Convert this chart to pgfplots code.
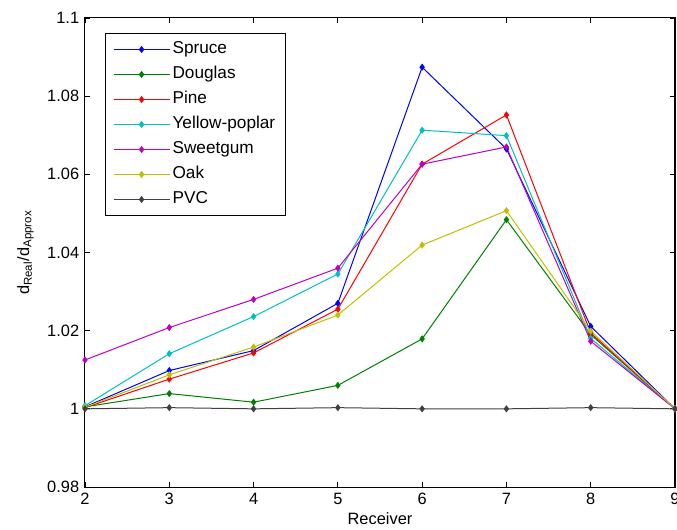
\documentclass[border=0pt]{standalone}
\usepackage{pgfplots}
\pgfplotsset{compat=1.18}
\usepackage{fontspec}
\setmainfont{Liberation Sans}
\definecolor{mblue}{rgb}{0,0,1}
\definecolor{mgreen}{rgb}{0,0.5,0}
\definecolor{mred}{rgb}{1,0,0}
\definecolor{mcyan}{rgb}{0,0.75,0.75}
\definecolor{mmag}{rgb}{0.75,0,0.75}
\definecolor{myel}{rgb}{0.75,0.75,0}
\definecolor{mgray}{rgb}{0.25,0.25,0.25}
\begin{document}
\fontsize{8.2}{9.8}\selectfont
\begin{tikzpicture}
\begin{axis}[
  scale only axis,
  width=295pt, height=234.5pt,
  xmin=2, xmax=9, ymin=0.98, ymax=1.1,
  xtick={2,3,4,5,6,7,8,9},
  ytick={0.98,1,1.02,1.04,1.06,1.08,1.1},
  /pgf/number format/assume math mode=true,
  /pgf/number format/fixed,
  /pgf/number format/precision=2,
  tick align=inside,
  major tick length=2.5pt,
  tick style={black, line width=0.4pt},
  axis line style={black, line width=0.5pt},
  ticklabel style={font=\fontsize{8.2}{9.8}\selectfont},
  label style={font=\fontsize{8.2}{9.8}\selectfont},
  xlabel={Receiver},
  ylabel={d\textsubscript{Real}/d\textsubscript{Approx}},
  xlabel style={yshift=1.5pt},
  ylabel style={yshift=1pt},
  every axis plot/.append style={line width=0.5pt, mark=diamond*, mark size=1.4pt},
  legend cell align=left,
  legend style={at={(0.034,0.968)}, anchor=north west, draw=black, line width=0.5pt,
    font=\fontsize{8.6}{10.3}\selectfont, row sep=1.5pt, inner xsep=3.75pt, inner ysep=2.5pt,
    nodes={inner sep=1.25pt, text height=6.3pt, text depth=2.2pt}},
  legend image code/.code={\draw[#1,mark repeat=2,mark phase=2] plot coordinates {(0pt,0pt) (14pt,0pt) (28pt,0pt)};},
]
\addplot[color=mblue] coordinates {(2,1.0005) (3,1.0098) (4,1.0149) (5,1.0270) (6,1.0874) (7,1.0665) (8,1.0211) (9,1.0)};
\addlegendentry{Spruce}
\addplot[color=mgreen] coordinates {(2,1.0005) (3,1.0039) (4,1.0017) (5,1.0060) (6,1.0179) (7,1.0484) (8,1.0190) (9,1.0)};
\addlegendentry{Douglas}
\addplot[color=mred] coordinates {(2,1.0003) (3,1.0076) (4,1.0143) (5,1.0255) (6,1.0626) (7,1.0752) (8,1.0194) (9,1.0)};
\addlegendentry{Pine}
\addplot[color=mcyan] coordinates {(2,1.0008) (3,1.0141) (4,1.0236) (5,1.0345) (6,1.0713) (7,1.0699) (8,1.0180) (9,1.0)};
\addlegendentry{Yellow-poplar}
\addplot[color=mmag] coordinates {(2,1.0125) (3,1.0208) (4,1.0280) (5,1.0360) (6,1.0626) (7,1.0670) (8,1.0173) (9,1.0)};
\addlegendentry{Sweetgum}
\addplot[color=myel] coordinates {(2,1.0004) (3,1.0087) (4,1.0158) (5,1.0240) (6,1.0419) (7,1.0507) (8,1.0199) (9,1.0)};
\addlegendentry{Oak}
\addplot[color=mgray] coordinates {(2,1.0) (3,1.0003) (4,1.0) (5,1.0003) (6,1.0) (7,1.0) (8,1.0003) (9,1.0)};
\addlegendentry{PVC}
\end{axis}
\pgfresetboundingbox
\path ([xshift=-42.5pt,yshift=-21pt]current axis.south west) rectangle ([xshift=1pt,yshift=9pt]current axis.north east);
\end{tikzpicture}
\end{document}
